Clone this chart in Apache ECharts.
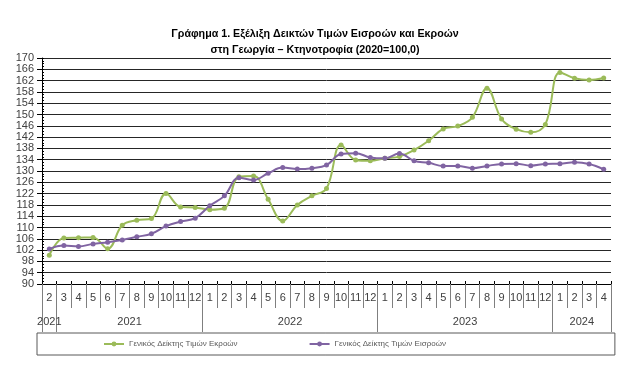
<!DOCTYPE html>
<html><head><meta charset="utf-8">
<script src="https://cdn.jsdelivr.net/npm/echarts@6/dist/echarts.min.js"></script>
<style>html,body{margin:0;padding:0;background:#fff}#c{width:630px;height:374px}</style>
</head><body><div id="c"></div>
<script>
const titleLines = ['Γράφημα 1. Εξέλιξη Δεικτών Τιμών Εισροών και Εκροών', 'στη Γεωργία – Κτηνοτροφία (2020=100,0)'];
const monthLabels = ['2','3','4','5','6','7','8','9','10','11','12',
  '1','2','3','4','5','6','7','8','9','10','11','12',
  '1','2','3','4','5','6','7','8','9','10','11','12',
  '1','2','3','4'];
const yearLabels = ['2021','2021','2022','2023','2024'];
const yearGroupSizes = [1,10,12,12,4];
const outputName = 'Γενικός Δείκτης Τιμών Εκροών';
const inputName = 'Γενικός Δείκτης Τιμών Εισροών';
const outputIndex = [100.2,106.3,106.4,106.5,102.5,110.8,112.6,113.2,122.0,117.3,117.1,
  116.3,116.8,128.0,128.2,120.0,112.3,118.0,121.2,123.8,139.2,133.9,133.6,
  134.5,135.1,137.4,140.7,144.9,145.9,149.0,159.3,148.4,144.8,143.7,146.5,
  164.9,162.8,162.2,162.9];
const inputIndex = [102.4,103.6,103.3,104.2,104.8,105.6,106.7,107.8,110.5,112.1,113.3,
  117.7,121.2,127.6,126.8,129.2,131.2,130.7,131.0,132.1,136.0,136.3,134.8,
  134.5,136.2,133.6,132.9,131.8,131.8,131.0,131.8,132.5,132.6,131.9,132.5,
  132.6,133.1,132.5,130.6];
const yTickLabels = [90,94,98,102,106,110,114,118,122,126,130,134,138,142,146,150,154,158,162,166,170];

// group boundaries / centres for the year row (derived from group sizes)
const yearBounds = [0];
yearGroupSizes.forEach(s => yearBounds.push(yearBounds[yearBounds.length - 1] + s));
const yearCenters = yearGroupSizes.map((s, i) => yearBounds[i] + s / 2);

const FONT = 'Liberation Sans';
const chart = echarts.init(document.getElementById('c'), null, {renderer: 'canvas'});
chart.setOption({
  animation: false,
  backgroundColor: '#fff',
  title: {
    text: titleLines.join('\n'),
    left: 'center',
    top: 21,
    textStyle: {fontFamily: FONT, fontSize: 10.7, fontWeight: 'bold', color: '#000', lineHeight: 16}
  },
  grid: {left: 42, right: 19, top: 58, bottom: 90, containLabel: false},
  legend: {
    data: [outputName, inputName],
    left: 37, top: 333, width: 420,
    padding: [7, 169, 7, 66],
    borderColor: '#595959', borderWidth: 1,
    itemWidth: 20, itemHeight: 6, itemGap: 71,
    textStyle: {fontFamily: FONT, fontSize: 8, color: '#595959'}
  },
  xAxis: [
    {
      type: 'category', data: monthLabels, position: 'bottom', boundaryGap: true,
      axisLine: {show: true, lineStyle: {color: '#000', width: 1}},
      axisTick: {show: true, interval: 0, length: 24, lineStyle: {color: '#7f7f7f'}},
      axisLabel: {interval: 0, margin: 8, fontFamily: FONT, fontSize: 11, color: '#404040'},
      splitLine: {show: false}
    },
    {
      type: 'value', min: 0, max: monthLabels.length, position: 'bottom',
      axisLine: {show: false},
      axisTick: {show: true, customValues: yearBounds, length: 48, lineStyle: {color: '#7f7f7f'}},
      axisLabel: {customValues: yearCenters, margin: 32, fontFamily: FONT, fontSize: 11, color: '#404040',
        formatter: v => { const i = yearCenters.indexOf(v); return i >= 0 ? yearLabels[i] : ''; }},
      splitLine: {show: false}
    },
    {
      type: 'category', data: monthLabels, position: 'bottom', boundaryGap: true,
      axisLine: {show: false},
      axisTick: {show: true, interval: 0, inside: true, length: 3, lineStyle: {color: '#000'}},
      axisLabel: {show: false},
      splitLine: {show: false}
    }
  ],
  yAxis: [
    {
      type: 'value', min: 90, max: 170, position: 'left',
      axisLine: {show: true, lineStyle: {color: '#000'}},
      axisTick: {show: true, customValues: yTickLabels, length: 5, lineStyle: {color: '#000'}},
      axisLabel: {customValues: yTickLabels, margin: 8, fontFamily: FONT, fontSize: 11, color: '#404040'},
      splitLine: {show: true, lineStyle: {color: '#262626', width: 1}}
    },
    {
      type: 'value', min: 90, max: 170, interval: 1, position: 'left',
      axisLine: {show: false},
      axisTick: {show: true, inside: true, length: 2, lineStyle: {color: '#000'}},
      axisLabel: {show: false},
      splitLine: {show: false}
    }
  ],
  series: [
    {
      name: outputName, type: 'line', data: outputIndex, xAxisIndex: 0, yAxisIndex: 0,
      smooth: 0.4, symbol: 'circle', symbolSize: 5,
      itemStyle: {color: '#9BBB59'}, lineStyle: {color: '#9BBB59', width: 2}
    },
    {
      name: inputName, type: 'line', data: inputIndex, xAxisIndex: 0, yAxisIndex: 0,
      smooth: 0.4, symbol: 'circle', symbolSize: 5,
      itemStyle: {color: '#8064A2'}, lineStyle: {color: '#8064A2', width: 2}
    }
  ]
});
</script>
</body></html>
